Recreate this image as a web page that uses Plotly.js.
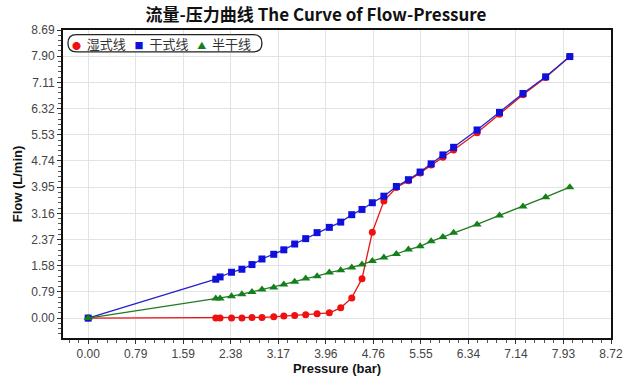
<!DOCTYPE html>
<html><head><meta charset="utf-8">
<script src="https://cdn.plot.ly/plotly-3.0.1.min.js"></script>
<style>html,body{margin:0;padding:0;background:#fff}#chart{width:632px;height:383px}</style>
</head><body><div id="chart"></div>
<script>
const pressure = [0, 2.128, 2.200, 2.391, 2.564, 2.732, 2.899, 3.095, 3.263, 3.444, 3.628, 3.818, 4.022, 4.212, 4.396, 4.567, 4.739, 4.932, 5.140, 5.341, 5.536, 5.720, 5.916, 6.095, 6.486, 6.860, 7.252, 7.630, 8.033];
const wetFlow = [0, 0.00, 0.00, 0.00, 0.00, 0.02, 0.02, 0.04, 0.06, 0.08, 0.10, 0.13, 0.16, 0.31, 0.61, 1.19, 2.59, 3.53, 3.94, 4.14, 4.38, 4.62, 4.85, 5.07, 5.59, 6.15, 6.74, 7.26, 7.89];
const dryFlow = [0, 1.173, 1.242, 1.383, 1.474, 1.615, 1.783, 1.925, 2.060, 2.235, 2.397, 2.578, 2.737, 2.896, 3.119, 3.278, 3.480, 3.678, 3.970, 4.175, 4.406, 4.653, 4.923, 5.152, 5.675, 6.205, 6.776, 7.278, 7.889];
const semiFlow = [0, 0.592, 0.592, 0.662, 0.722, 0.791, 0.863, 0.923, 1.014, 1.098, 1.194, 1.263, 1.374, 1.444, 1.525, 1.615, 1.723, 1.826, 1.934, 2.066, 2.165, 2.316, 2.445, 2.578, 2.827, 3.098, 3.369, 3.648, 3.949];
const seriesNames = ['湿式线', '干式线', '半干线'];
const xTickVals = [0, 0.7927, 1.5855, 2.3782, 3.1709, 3.9636, 4.7564, 5.5491, 6.3418, 7.1345, 7.9273, 8.72];
const xTickText = ['0.00','0.79','1.59','2.38','3.17','3.96','4.76','5.55','6.34','7.14','7.93','8.72'];
const yTickVals = [0, 0.79, 1.58, 2.37, 3.16, 3.95, 4.74, 5.53, 6.32, 7.11, 7.90, 8.69];
const yTickText = ['0.00','0.79','1.58','2.37','3.16','3.95','4.74','5.53','6.32','7.11','7.90','8.69'];

const colors = ['#f01010', '#1010dd', '#14801a'];
const lineColors = ['#e81515', '#2222cc', '#217a21'];
const symbols = ['circle', 'square', 'triangle-up'];
const glyphs = ['●', '■', '▲'];
const glyphSizes = [9, 9, 9];
const sizes = [7, 7, 8];
const flows = [wetFlow, dryFlow, semiFlow];

const traces = flows.map((f, i) => ({x: pressure, y: f, name: seriesNames[i], type: 'scatter', mode: 'lines+markers', showlegend: false,
  line: {color: lineColors[i], width: 1.3}, marker: {symbol: symbols[i], size: sizes[i], color: colors[i]}}));

const legendText = seriesNames.map((n, i) =>
  `<span style="color:${colors[i]};font-size:${glyphSizes[i]}px">${glyphs[i]}</span>&nbsp;&nbsp;${n}`).join('&nbsp;&nbsp;&nbsp;');

const x0 = 0.009, x1 = 0.363, y0 = 0.929, y1 = 0.985, rx = 0.0155, ry = 0.028;
const pill = `M ${x0+rx},${y1} L ${x1-rx},${y1} Q ${x1},${y1} ${x1},${y1-ry} Q ${x1},${y0} ${x1-rx},${y0} L ${x0+rx},${y0} Q ${x0},${y0} ${x0},${y0+ry} Q ${x0},${y1} ${x0+rx},${y1} Z`;

const axisCommon = {
  showline: true, linecolor: '#111', linewidth: 2, mirror: true,
  ticks: 'outside', ticklen: 4, tickcolor: '#333', tickwidth: 1,
  showgrid: true, gridcolor: '#e3e3e3', gridwidth: 1, zeroline: false,
  tickfont: {family: 'Liberation Sans, Arial, sans-serif', size: 12, color: '#444'},
  tickmode: 'array'
};

const layout = {
  width: 632, height: 383,
  margin: {l: 63, r: 21, t: 30, b: 45},
  paper_bgcolor: '#fff', plot_bgcolor: '#fff',
  title: {text: '<b>流量-压力曲线 The Curve of Flow-Pressure</b>', x: 0.5, xanchor: 'center', y: 0.961, yanchor: 'middle',
    font: {family: 'Noto Sans CJK SC, sans-serif', size: 17, color: '#111'}},
  xaxis: Object.assign({}, axisCommon, {
    range: [-0.42, 8.72], tickvals: xTickVals, ticktext: xTickText,
    minor: {tick0: 0, dtick: 0.15855, ticks: 'outside', ticklen: 3, tickcolor: '#555', showgrid: false},
    title: {text: '<b>Pressure (bar)</b>', standoff: 1, font: {family: 'Liberation Sans, Arial, sans-serif', size: 13, color: '#111'}}
  }),
  yaxis: Object.assign({}, axisCommon, {
    range: [-0.6, 8.69], tickvals: yTickVals, ticktext: yTickText,
    minor: {tick0: 0, dtick: 0.158, ticks: 'outside', ticklen: 3, tickcolor: '#555', showgrid: false},
    title: {text: '<b>Flow (L/min)</b>', standoff: 6, font: {family: 'Liberation Sans, Arial, sans-serif', size: 13, color: '#111'}}
  }),
  showlegend: false,
  annotations: [{xref: 'paper', yref: 'paper', x: 0.012, y: 0.957, xanchor: 'left', yanchor: 'middle',
    text: legendText, showarrow: false, align: 'left',
    font: {family: 'Noto Sans CJK SC, sans-serif', size: 13, color: '#333'}}],
  shapes: [{type: 'path', xref: 'paper', yref: 'paper', path: pill, layer: 'above',
    line: {color: '#222', width: 1.3}, fillcolor: '#fff'}]
};

Plotly.newPlot('chart', traces, layout, {displayModeBar: false, staticPlot: true});
</script></body></html>
